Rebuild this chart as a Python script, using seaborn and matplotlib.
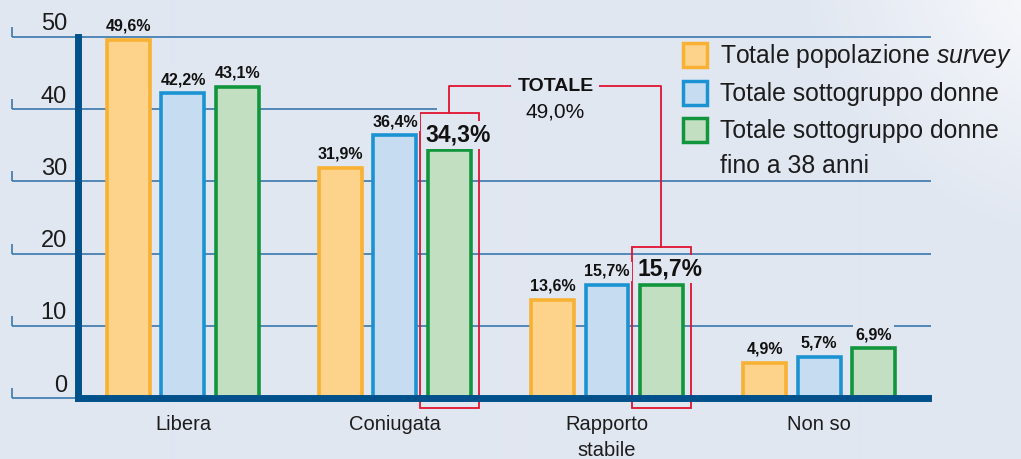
import numpy as np
import pandas as pd
import matplotlib
matplotlib.use("Agg")
import matplotlib.pyplot as plt
import matplotlib.colors as mcolors
import seaborn as sns
from matplotlib.patches import Rectangle
from matplotlib.transforms import ScaledTranslation

# ---------------- data ----------------
categories = ["Libera", "Coniugata", "Rapporto\nstabile", "Non so"]
series = ["Totale popolazione survey", "Totale sottogruppo donne",
          "Totale sottogruppo donne fino a 38 anni"]
popolazione = [49.6, 31.9, 13.6, 4.9]
donne = [42.2, 36.4, 15.7, 5.7]
donne_38 = [43.1, 34.3, 15.7, 6.9]
yticks = [0, 10, 20, 30, 40, 50]
highlight_categories = ["Coniugata", "Rapporto\nstabile"]
totale_title = "TOTALE"
totale_value = 49.0
legend_lines = [["Totale popolazione $\\it{survey}$"],
                ["Totale sottogruppo donne"],
                ["Totale sottogruppo donne", "fino a 38 anni"]]

# ---------------- style ----------------
BG = "#e1e7f1"
fills = ["#fdd28b", "#c6ddf1", "#c2dfc2"]
edges = ["#f8b133", "#1b93d2", "#11963d"]
AXC = "#00518b"
GRID = "#3a77ad"
RED = "#e2132f"
TXT = "#1c1c1c"

sns.set_theme(style="white")
plt.rcParams["font.family"] = ["Liberation Sans", "DejaVu Sans"]
plt.rcParams["mathtext.fontset"] = "custom"
plt.rcParams["mathtext.rm"] = "Liberation Sans"
plt.rcParams["mathtext.it"] = "Liberation Sans:italic"

W, H = 1021, 459
fig = plt.figure(figsize=(W / 100, H / 100), dpi=100)
fig.patch.set_facecolor(BG)

# background glow (top right)
bgax = fig.add_axes([0, 0, 1, 1], zorder=-10)
yy, xx = np.mgrid[0:H, 0:W]
d = np.hypot(xx - 1110, (yy + 40) * 1.1)
f = np.clip(1 - d / 320, 0, 1) ** 1.1
base = np.array(mcolors.to_rgb(BG))
img = base[None, None, :] * (1 - f[..., None]) + f[..., None]
bgax.imshow(img, aspect="auto", interpolation="bilinear")
bgax.axis("off")

# main axes
L, R, T, B = 78, 928, 37, 398
ax = fig.add_axes([L / W, 1 - B / H, (R - L) / W, (B - T) / H])
ax.set_facecolor("none")

df = pd.DataFrame({
    "categoria": categories * 3,
    "serie": [s for s in series for _ in categories],
    "valore": popolazione + donne + donne_38,
})
sns.barplot(data=df, x="categoria", y="valore", hue="serie", palette=fills,
            width=0.77, gap=0.21, linewidth=2.6, saturation=1, legend=False,
            errorbar=None, ax=ax, zorder=3)
for cont, ec in zip(ax.containers, edges):
    for bar in cont:
        bar.set_edgecolor(ec)

ax.set_xlim(-0.495, 3.514)
ax.set_ylim(0, 50)
ax.set_xlabel("")
ax.set_ylabel("")
for s in ["top", "right"]:
    ax.spines[s].set_visible(False)
for s in ["left", "bottom"]:
    ax.spines[s].set_color(AXC)
    ax.spines[s].set_linewidth(5)
    ax.spines[s].set_zorder(5)

px_per_unit = (B - T) / 50.0
px_per_x = (R - L) / (3.514 + 0.495)

# gridlines extending left of the axis
trans = ax.get_yaxis_transform()
gx0 = (12 - L) / (R - L)
gx1 = (931 - L) / (R - L)
for v in yticks:
    xend = gx1 if v != 40 else (437 - L) / (R - L)
    ax.plot([gx0, xend], [v, v], transform=trans, color=GRID, lw=1.2,
            clip_on=False, zorder=1, solid_capstyle="butt")
    ax.plot([gx0, gx0], [v, v + 10 / px_per_unit], transform=trans, color=GRID,
            lw=1.2, clip_on=False, zorder=1, solid_capstyle="butt")

# y tick labels above gridlines
ax.set_yticks(yticks)
ax.set_yticklabels([str(v) for v in yticks])
ax.tick_params(axis="y", length=0, pad=8, labelsize=17, labelcolor=TXT)
for lab in ax.get_yticklabels():
    lab.set_transform(lab.get_transform() + ScaledTranslation(0, 0.15, fig.dpi_scale_trans))

ax.tick_params(axis="x", length=0, pad=12.5, labelsize=14.5, labelcolor=TXT)
for lab in ax.get_xticklabels():
    lab.set_linespacing(1.45)

# value labels
for ci, (cont, vals) in enumerate(zip(ax.containers, [popolazione, donne, donne_38])):
    for cat, bar, v in zip(categories, cont, vals):
        big = ci == 2 and cat in highlight_categories
        ax.annotate(f"{v:.1f}%".replace(".", ","),
                    (bar.get_x() + bar.get_width() / 2, bar.get_height()),
                    xytext=(9 if big else 0, 9), textcoords="offset pixels",
                    ha="center", va="baseline",
                    fontsize=16.5 if big else 11.5, fontweight="bold", color="#111111",
                    bbox=dict(boxstyle="square,pad=0.12", fc=BG, ec="none"),
                    zorder=7)

# red brackets
padx = 8 / px_per_x
pady = 37.5 / px_per_unit
ybot = -10 / px_per_unit
bracket_y = 43.2
tops = []
for cat, bar in zip(categories, ax.containers[2]):
    if cat in highlight_categories:
        x0 = bar.get_x() - padx
        x1 = bar.get_x() + bar.get_width() + padx
        ytop = bar.get_height() + pady
        ax.add_patch(Rectangle((x0, ybot), x1 - x0, ytop - ybot, fill=False,
                               ec=RED, lw=1.3, clip_on=False, zorder=4))
        tops.append((bar.get_x() + bar.get_width() / 2, ytop))
(cx1, t1), (cx2, t2) = tops
ax.plot([cx1, cx1, cx2, cx2], [t1, bracket_y, bracket_y, t2], color=RED, lw=1.3,
        clip_on=False, zorder=4)
ax.text((cx1 + cx2) / 2, bracket_y, totale_title, ha="center", va="center",
        fontsize=14, fontweight="bold", color="#111111", zorder=7,
        bbox=dict(boxstyle="square,pad=0.3", fc=BG, ec="none"))
ax.annotate(f"{totale_value:.1f}%".replace(".", ","), ((cx1 + cx2) / 2, bracket_y),
            xytext=(0, -26), textcoords="offset pixels", ha="center", va="center",
            fontsize=15, color="#111111", zorder=7)

# legend (manual)
sq = 24
row_centers = [55, 93, 130]
for i, lines in enumerate(legend_lines):
    cy = row_centers[i]
    fig.add_artist(Rectangle(((683) / W, 1 - (cy + sq / 2) / H), sq / W, sq / H,
                             transform=fig.transFigure, fc=fills[i], ec=edges[i],
                             lw=2.5, zorder=8))
    for j, line in enumerate(lines):
        base_y = cy + 8 + j * 35
        fig.text(720 / W, 1 - base_y / H, line, ha="left", va="baseline",
                 fontsize=17.8, color=TXT, zorder=8)

fig.savefig("out.png", dpi=100, facecolor=BG)
